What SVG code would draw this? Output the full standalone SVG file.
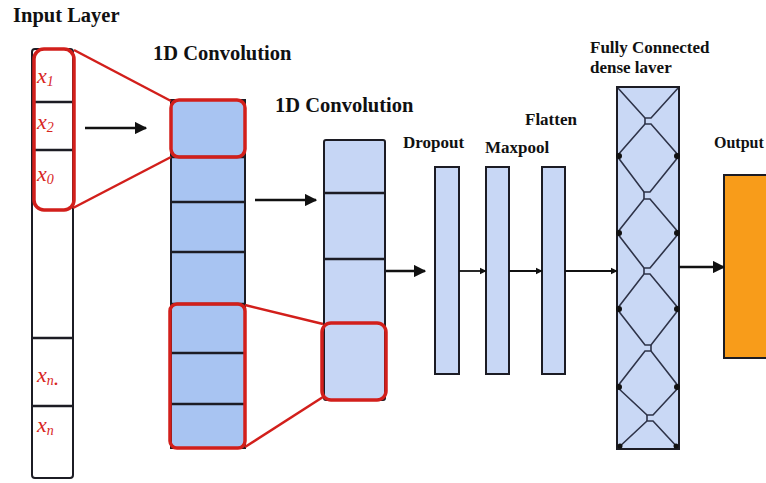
<svg xmlns="http://www.w3.org/2000/svg" width="766" height="483" viewBox="0 0 766 483">
<defs>
<style>
.lbl{font-family:"Liberation Serif","Times New Roman",serif;font-weight:bold;fill:#111}
.big{font-size:20.5px}
.sm{font-size:17px}
.xin{font-family:"Liberation Serif",serif;font-style:italic;font-size:22px;fill:#d8261e}
.sub{font-size:14px}
.cell{stroke:#1c1c24;stroke-width:2}
.div{stroke:#1c1c24;stroke-width:2.5}
.red{fill:none;stroke:#d21f1b;stroke-width:3.5}
.redl{stroke:#d21f1b;stroke-width:2.5}
.arr{stroke:#111;stroke-width:2.5;fill:none;marker-end:url(#ah)}
.arrs{stroke:#111;stroke-width:1.8;fill:none;marker-end:url(#ahs)}
.zz{fill:none;stroke:#2e3348;stroke-width:1.6}
.dot{fill:#111}
</style>
<marker id="ah" viewBox="0 0 10 10" refX="9" refY="5" markerWidth="5" markerHeight="5" orient="auto" markerUnits="strokeWidth"><path d="M0,0 L10,5 L0,10 z" fill="#111"/></marker>
<marker id="ahs" viewBox="0 0 10 10" refX="9" refY="5" markerWidth="4" markerHeight="4" orient="auto" markerUnits="strokeWidth"><path d="M0,0 L10,5 L0,10 z" fill="#111"/></marker>
</defs>
<rect width="766" height="483" fill="#ffffff"/>

<g id="input-layer">
<text class="lbl big" x="13" y="22">Input Layer</text>
<rect class="cell" x="32" y="49" width="41" height="429" rx="3" fill="#ffffff"/>
<line class="div" x1="32" y1="102" x2="73" y2="102" stroke-width="2"/>
<line class="div" x1="32" y1="150" x2="73" y2="150" stroke-width="2"/>
<line class="div" x1="32" y1="338" x2="73" y2="338" stroke-width="2"/>
<line class="div" x1="32" y1="406" x2="73" y2="406" stroke-width="2"/>
<rect class="red" x="34" y="49" width="40" height="161" rx="10"/>
<text class="xin" x="37" y="83">x<tspan class="sub" dy="3">1</tspan></text>
<text class="xin" x="37" y="129">x<tspan class="sub" dy="3">2</tspan></text>
<text class="xin" x="37" y="181">x<tspan class="sub" dy="3">0</tspan></text>
<text class="xin" x="37" y="382">x<tspan class="sub" dy="3">n</tspan>.</text>
<text class="xin" x="37" y="432">x<tspan class="sub" dy="3">n</tspan></text>
</g>

<g id="conv1">
<text class="lbl big" x="153" y="60">1D Convolution</text>
<rect class="cell" x="171" y="100" width="74" height="348" fill="#a8c4f2"/>
<line class="div" x1="171" y1="157" x2="245" y2="157"/>
<line class="div" x1="171" y1="202" x2="245" y2="202"/>
<line class="div" x1="171" y1="252" x2="245" y2="252"/>
<line class="div" x1="171" y1="304" x2="245" y2="304"/>
<line class="div" x1="171" y1="353" x2="245" y2="353"/>
<line class="div" x1="171" y1="404" x2="245" y2="404"/>
<rect class="red" x="171" y="100" width="74" height="57" rx="8"/>
<rect class="red" x="170" y="304" width="75" height="144" rx="7"/>
</g>

<g id="conv2">
<text class="lbl big" x="275" y="112">1D Convolution</text>
<rect class="cell" x="324" y="140" width="61" height="260" rx="2" fill="#c6d6f5"/>
<line class="div" x1="324" y1="193" x2="385" y2="193"/>
<line class="div" x1="324" y1="259" x2="385" y2="259"/>
<rect class="red" x="322" y="323" width="64" height="77" rx="9"/>
</g>

<g id="dropout">
<text class="lbl sm" x="403" y="148">Dropout</text>
<rect class="cell" x="435" y="167" width="24" height="207" fill="#c8d7f5"/>
</g>
<g id="maxpool">
<text class="lbl sm" x="485" y="153">Maxpool</text>
<rect class="cell" x="486" y="167" width="23" height="207" fill="#c8d7f5"/>
</g>
<g id="flatten">
<text class="lbl sm" x="525" y="125">Flatten</text>
<rect class="cell" x="542" y="167" width="23" height="207" fill="#c8d7f5"/>
</g>

<g id="dense">
<text class="lbl sm" x="590" y="53">Fully Connected</text>
<text class="lbl sm" x="590" y="73">dense laver</text>
<rect x="617" y="87" width="62" height="362" fill="#c9d8f5"/>
<polyline class="zz" points="617,87 645,118 651,118 679,87"/>
<polyline class="zz" points="617,156 645,124 651,124 679,156"/>
<polyline class="zz" points="645,118 645,124"/>
<polyline class="zz" points="617,156 644,192 650,192 679,156"/>
<polyline class="zz" points="617,233 644,199 650,199 679,233"/>
<polyline class="zz" points="644,192 644,199"/>
<polyline class="zz" points="617,233 644,268 650,268 679,233"/>
<polyline class="zz" points="617,309 644,274 650,274 679,309"/>
<polyline class="zz" points="644,268 644,274"/>
<polyline class="zz" points="617,309 645,345 651,345 679,309"/>
<polyline class="zz" points="617,387 645,351 651,351 679,387"/>
<polyline class="zz" points="651,345 651,351"/>
<polyline class="zz" points="617,387 647,415 653,415 679,387"/>
<polyline class="zz" points="617,449 647,421 653,421 679,449"/>
<polyline class="zz" points="647,415 647,421"/>
<rect class="cell" x="617" y="87" width="62" height="362" fill="none"/>
<circle class="dot" cx="619" cy="156" r="3"/><circle class="dot" cx="677" cy="156" r="3"/>
<circle class="dot" cx="619" cy="233" r="3"/><circle class="dot" cx="677" cy="233" r="3"/>
<circle class="dot" cx="619" cy="309" r="3"/><circle class="dot" cx="677" cy="309" r="3"/>
<circle class="dot" cx="619" cy="387" r="3"/><circle class="dot" cx="677" cy="387" r="3"/>
<circle class="dot" cx="620" cy="446" r="2.5"/><circle class="dot" cx="676" cy="446" r="2.5"/>
</g>

<g id="output">
<text class="lbl" x="714" y="148" font-size="16">Output</text>
<rect class="cell" x="724" y="175" width="60" height="183" fill="#f89c1a"/>
</g>

<g id="connectors">
<line class="redl" x1="74" y1="50" x2="171" y2="101"/>
<line class="redl" x1="73" y1="208" x2="171" y2="157"/>
<line class="redl" x1="245" y1="305" x2="323" y2="324"/>
<line class="redl" x1="245" y1="447" x2="323" y2="397"/>
<line class="arr" x1="85" y1="128" x2="146" y2="128"/>
<line class="arr" x1="255" y1="200" x2="316" y2="200"/>
<line class="arr" x1="386" y1="271" x2="425" y2="271"/>
<line class="arrs" x1="459" y1="271" x2="486" y2="271"/>
<line class="arrs" x1="509" y1="271" x2="542" y2="271"/>
<line class="arrs" x1="565" y1="271" x2="617" y2="271"/>
<line class="arr" x1="679" y1="267" x2="724" y2="267"/>
</g>
</svg>
